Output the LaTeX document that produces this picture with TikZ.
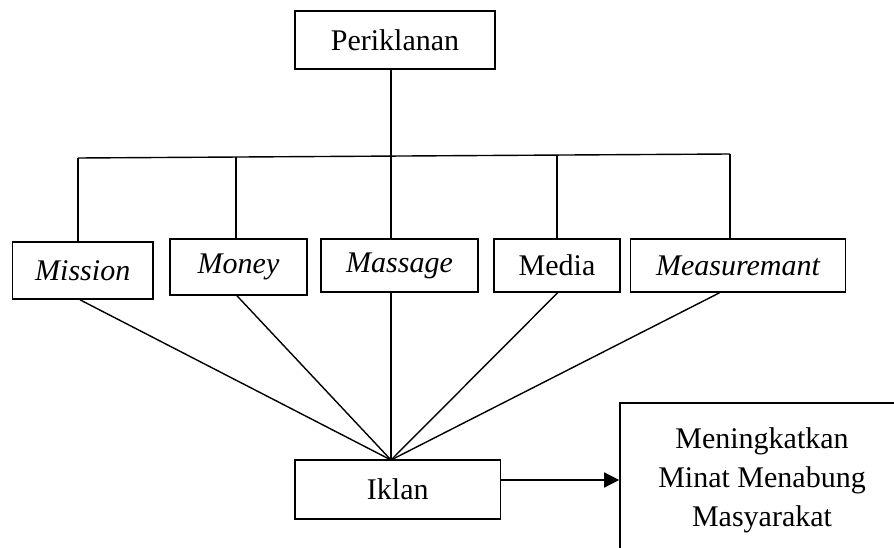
\documentclass[tikz,border=0pt]{standalone}
\usepackage{fontspec}
\setmainfont{Liberation Serif}
\usetikzlibrary{arrows.meta}
\begin{document}
\begin{tikzpicture}[x=1pt,y=-1pt,
  box/.style={draw, line width=1.6pt, inner sep=0pt, align=center, font=\fontsize{30}{39}\selectfont},
  conn/.style={line width=1.4pt}]
\useasboundingbox (0,0) rectangle (894,548);
\clip (0,0) rectangle (894,548);
\node[box, minimum width=200pt, minimum height=58pt] (per) at (395,40) {Periklanan};
\node[box, minimum width=140.5pt, minimum height=57pt] (mis) at (82.75,270.5) {\itshape Mission};
\node[box, minimum width=137pt, minimum height=56pt] (mon) at (238.5,267) {\itshape Money};
\node[box, minimum width=157pt, minimum height=53pt] (mas) at (399.5,265.5) {\itshape Massage};
\node[box, minimum width=126pt, minimum height=53pt] (med) at (557,265.5) {Media};
\node[box, minimum width=215pt, minimum height=53pt] (mea) at (738,265.5) {\itshape Measuremant};
\node[box, minimum width=205.5pt, minimum height=59pt] (ikl) at (397.75,489.5) {Iklan};
\node[box, minimum width=284pt, minimum height=154pt] (res) at (762,480) {Meningkatkan\\Minat Menabung\\Masyarakat};
% tree bar
\coordinate (bl) at (78,158);
\coordinate (br) at (730,154);
\coordinate (j2) at (236,157);
\coordinate (j3) at (391,156);
\coordinate (j4) at (557,155);
\draw[conn] (per.south -| j3) -- (j3);
\draw[conn] (bl) -- (br);
\draw[conn] (bl) -- (mis.north -| bl);
\draw[conn] (j2) -- (mon.north -| j2);
\draw[conn] (j3) -- (mas.north -| j3);
\draw[conn] (j4) -- (med.north -| j4);
\draw[conn] (br) -- (mea.north -| br);
% fan to Iklan
\coordinate (hub) at (391,460);
\coordinate (m1) at (80,299);
\coordinate (m2) at (237,295);
\coordinate (m3) at (391,292);
\coordinate (m4) at (557.6,292);
\coordinate (m5) at (719.5,292);
\draw[conn] (mis.south -| m1) -- (hub);
\draw[conn] (mon.south -| m2) -- (hub);
\draw[conn] (mas.south -| m3) -- (hub);
\draw[conn] (med.south -| m4) -- (hub);
\draw[conn] (mea.south -| m5) -- (hub);
% arrow
\coordinate (a1) at (500.5,480);
\draw[conn, -{Triangle[length=15pt,width=15pt]}] (ikl.east |- a1) -- (res.west |- a1);
\end{tikzpicture}
\end{document}
